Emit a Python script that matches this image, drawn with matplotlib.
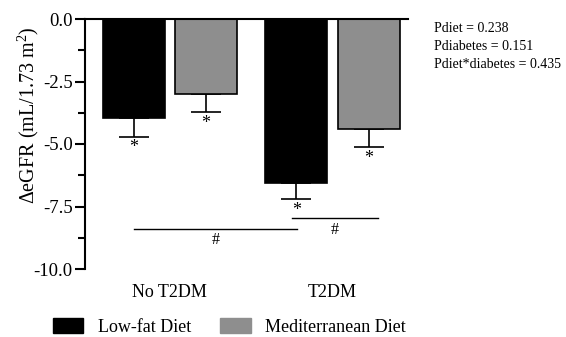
import numpy as np
import matplotlib
matplotlib.use('Agg')
import matplotlib.pyplot as plt
from matplotlib.patches import Patch

plt.rcParams['font.family'] = 'Liberation Serif'
plt.rcParams['mathtext.fontset'] = 'custom'
plt.rcParams['mathtext.rm'] = 'Liberation Serif'

# data
groups = ['No T2DM', 'T2DM']
series = ['Low-fat Diet', 'Mediterranean Diet']
low_fat = [-3.95, -6.55]
low_fat_err = [0.76, 0.65]
med = [-3.0, -4.41]
med_err = [0.71, 0.72]
p_text = ['Pdiet = 0.238', 'Pdiabetes = 0.151', 'Pdiet*diabetes = 0.435']
# '#' comparison lines: (x start, x end, y)
hash_lines = [(-0.22, 0.78, -8.39), (0.75, 1.28, -7.97)]

colors = ['black', '#8e8e8e']

fig = plt.figure(figsize=(5.66, 3.37), dpi=100)
ax = fig.add_axes([85/566, 1-269/337, (408-85)/566, (269-19)/337])

x = np.arange(len(groups))
off = 0.222
w = 0.38
for vals, errs, c, dx in [(low_fat, low_fat_err, colors[0], -off), (med, med_err, colors[1], off)]:
    ax.bar(x + dx, vals, width=w, color=c, edgecolor='black', linewidth=1.2, zorder=2)
    ax.errorbar(x + dx, vals, yerr=[errs, [0]*len(errs)], fmt='none', ecolor='black',
                elinewidth=1.2, capsize=11, capthick=1.2, zorder=1)
    for xi, v, e in zip(x + dx, vals, errs):
        ax.text(xi, v - e - 0.45, '*', ha='center', va='center', fontsize=13)

for x0, x1, y in hash_lines:
    ax.plot([x0, x1], [y, y], color='black', lw=1.0)
    ax.text((x0 + x1) / 2, y - 0.45, '#', ha='center', va='center', fontsize=11.5)

ax.set_xlim(-0.521, 1.464)
ax.set_ylim(-10, 0)
ax.set_yticks([0, -2.5, -5, -7.5, -10])
ax.set_yticklabels(['0.0', '-2.5', '-5.0', '-7.5', '-10.0'], fontsize=13.5)
ax.set_yticks(np.arange(-10, 0.1, 1.25), minor=True)
ax.tick_params(axis='y', which='major', length=7, width=1.5, direction='out', pad=2)
ax.tick_params(axis='y', which='minor', length=5, width=1.5, direction='out')
ax.tick_params(axis='x', length=0)
ax.set_xticks([])
for s in ['right', 'bottom']:
    ax.spines[s].set_visible(False)
ax.spines['left'].set_linewidth(1.5)
ax.spines['top'].set_linewidth(1.5)

for xi, g in zip(x, groups):
    ax.text(xi, -10.95, g, ha='center', va='center', fontsize=13)

fig.text(28/566, 1-115/337, r'$\Delta$eGFR (mL/1.73 m$^2$)', rotation=90,
         ha='center', va='center', fontsize=14.5)

for i, t in enumerate(p_text):
    fig.text(434/566, 1-(29 + 18*i)/337, t, ha='left', va='center', fontsize=10)

handles = [Patch(facecolor=c, edgecolor=c) for c in colors]
fig.legend(handles, series, loc='center', bbox_to_anchor=(0.405, 1-327/337), ncol=2,
           frameon=False, fontsize=13, handlelength=1.7, handleheight=0.9,
           handletextpad=0.8, columnspacing=1.6)

fig.savefig('out.png', dpi=100)
